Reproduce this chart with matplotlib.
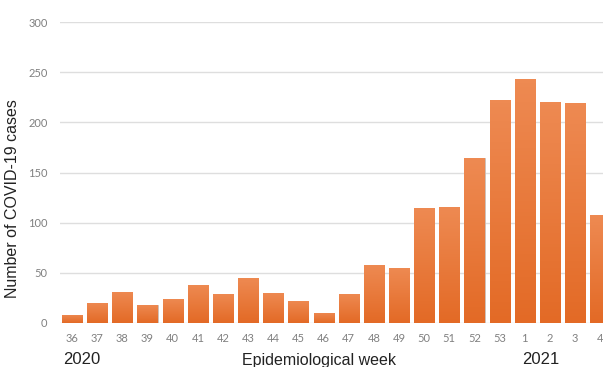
import numpy as np
import matplotlib
matplotlib.use("Agg")
import matplotlib.pyplot as plt
from matplotlib.colors import LinearSegmentedColormap

weeks = ["36", "37", "38", "39", "40", "41", "42", "43", "44", "45", "46",
         "47", "48", "49", "50", "51", "52", "53", "1", "2", "3", "4"]
cases = [8, 20, 31, 18, 24, 38, 29, 45, 30, 22, 10,
         29, 58, 55, 115, 116, 164, 222, 243, 220, 219, 108]
y_ticks = [0, 50, 100, 150, 200, 250, 300]

TICK_GRAY = "#808080"
GRID_GRAY = "#dedede"

fig = plt.figure(figsize=(6.03, 3.67), dpi=100)
ax = fig.add_axes([0.0995, 0.1199, 0.9005, 0.8201])

x = np.arange(len(weeks))
bars = ax.bar(x, cases, width=0.8, color="#e9783a", edgecolor="#c9c3bf",
              linewidth=0.6, zorder=2)

# vertical gradient inside each bar, lighter at the top
grad = LinearSegmentedColormap.from_list("bar", ["#e36a26", "#ee8a52"])
for b in bars:
    x0, y0 = b.get_x(), b.get_y()
    w, h = b.get_width(), b.get_height()
    im = ax.imshow(np.linspace(0, 1, 64).reshape(-1, 1), cmap=grad,
                   origin="lower", aspect="auto",
                   extent=[x0, x0 + w, y0, y0 + h], zorder=2.5)
    im.set_clip_path(b)

ax.set_xlim(-0.48, 21.11)
ax.set_ylim(0, 300)
ax.set_yticks(y_ticks)
ax.set_xticks(x)
ax.set_xticklabels(weeks)
ax.yaxis.grid(True, color=GRID_GRAY, linewidth=1.0, zorder=0)
ax.set_axisbelow(True)
for spine in ax.spines.values():
    spine.set_visible(False)
ax.tick_params(axis="both", length=0, colors=TICK_GRAY, labelsize=8)
ax.tick_params(axis="x", pad=7)
ax.tick_params(axis="y", pad=9)
for lbl in ax.get_xticklabels() + ax.get_yticklabels():
    lbl.set_fontfamily("Lato")

ax.set_ylabel("Number of COVID-19 cases", fontsize=11.5, family="Liberation Sans",
              color="#222222")
ax.yaxis.set_label_coords(-0.0737, 0.415)

tr = ax.get_xaxis_transform()
ax.text(0.4, -0.12, "2020", transform=tr, ha="center", va="center",
        fontsize=12, family="Liberation Sans", color="#222222")
ax.text(9.8, -0.125, "Epidemiological week", transform=tr, ha="center",
        va="center", fontsize=11.5, family="Liberation Sans", color="#222222")
ax.text(18.65, -0.12, "2021", transform=tr, ha="center", va="center",
        fontsize=12, family="Liberation Sans", color="#222222")

fig.savefig("out.png", dpi=100)
